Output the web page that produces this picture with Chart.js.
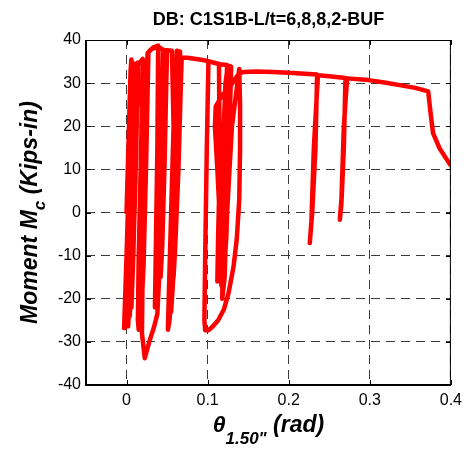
<!DOCTYPE html>
<html>
<head>
<meta charset="utf-8">
<script src="https://cdn.jsdelivr.net/npm/chart.js@4.4.1/dist/chart.umd.min.js"></script>
<style>
  html, body { margin: 0; padding: 0; background: #fff; }
  #chart-container { width: 468px; height: 451px; }
</style>
</head>
<body>
<div id="chart-container"><canvas id="hysteresisChart" width="468" height="451"></canvas></div>
<script>
// rotation (rad) and column moment (kips-in), one pair per recorded step
const thetaRad = [
    // small cycles round zero
    0.000, 0.003, 0.005, 0.006, 0.007, 0.004, 0.000, -0.003, -0.002, 0.001,
    0.004, 0.007, 0.009, 0.006, 0.002, 0.001, 0.002, 0.004, 0.007, 0.010,
    0.012, 0.011, 0.009, 0.005, 0.003, 0.004, 0.006, 0.009, 0.012, 0.014,
    0.012, 0.009, 0.006, 0.006, 0.008, 0.011, 0.013, 0.014,
    0.010, 0.003, 0.000, 0.001, 0.005, 0.009, 0.013,
    0.020, 0.018, 0.015, 0.014, 0.015, 0.017, 0.020, 0.023, 0.026,
    0.024, 0.021, 0.019, 0.021, 0.024, 0.027,
    0.033, 0.039, 0.038, 0.036, 0.035, 0.037, 0.040, 0.043, 0.045,
    0.039, 0.030, 0.026,
    // deepest negative excursion
    0.023, 0.020, 0.019, 0.0225, 0.028, 0.034, 0.038, 0.041, 0.043, 0.045, 0.047,
    0.045, 0.041, 0.039, 0.041, 0.044, 0.047, 0.049,
    0.046, 0.043, 0.042, 0.044, 0.047, 0.049, 0.050, 0.056,
    0.058, 0.055, 0.052, 0.051, 0.053, 0.057, 0.061, 0.064, 0.066, 0.066,
    0.062, 0.060, 0.057, 0.055, 0.055, 0.058, 0.062, 0.065, 0.067,
    0.064, 0.060, 0.058, 0.060, 0.064, 0.067, 0.068,
    0.075, 0.092, 0.101, 0.108,
    0.114, 0.115, 0.113, 0.112, 0.114, 0.118, 0.122, 0.125,
    0.122, 0.119, 0.118, 0.121, 0.124, 0.127, 0.128,
    0.126, 0.122, 0.120, 0.123, 0.126, 0.129,
    0.120, 0.116, 0.115, 0.117, 0.121, 0.124,
    // large loop at 0.1 rad
    0.115, 0.101, 0.099, 0.097, 0.096, 0.097, 0.101, 0.106, 0.113, 0.120,
    0.126, 0.132, 0.136, 0.139, 0.140, 0.140, 0.139,
    0.130, 0.124, 0.119, 0.117, 0.116, 0.112, 0.109, 0.110, 0.118, 0.127,
    0.134, 0.139, 0.145,
    // monotonic push with two unloadings
    0.160, 0.180, 0.200, 0.220, 0.235,
    0.233, 0.229, 0.226, 0.228, 0.231, 0.236,
    0.250, 0.270,
    0.268, 0.265, 0.263, 0.265, 0.268, 0.272,
    0.2985, 0.320, 0.335, 0.356, 0.372, 0.375, 0.378, 0.386, 0.399
];
const momentKipIn = [
    0, 20, 33, 35.5, 34, 15, -10, -26.8, -22, -5,
    15, 30, 34.5, 15, -10, -25, -26.4, -18, 0, 20,
    33, 34.5, 15, -5, -20, -24, -15, 5, 25, 34.8,
    15, -5, -18, -22, -12, 8, 25, 34.5,
    12, -12, -24, -20, 0, 20, 34,
    35.6, 15, -10, -25, -27.2, -15, 5, 25, 37,
    15, -8, -20, -12, 10, 37.2,
    38.3, 38.7, 15, -10, -22, -20, 0, 25, 37.7,
    38.5, 37.8, 37,
    15, -10, -28, -33.8, -30, -26.5, -23.5, -12, 5, 25, 37.7,
    15, -5, -18, -12, 10, 30, 37.6,
    15, -5, -15, -8, 12, 30, 37.6, 37.5,
    20, 0, -20, -27.2, -25, -15, 0, 20, 33, 37.3,
    37.5, 20, 0, -18, -23, -14, 5, 25, 35.9,
    15, -5, -15, -8, 10, 30, 35.9,
    35.9, 35.4, 35.1, 34.7,
    34.4, 10, -5, -16, -10, 10, 30, 34.1,
    10, -10, -20, -15, 5, 25, 33.9,
    15, -5, -14, -6, 12, 33.8,
    15, -5, -12, -3, 15, 34.2,
    34.4, 35.1, 15, -10, -25, -27.3, -27.3, -26.5, -25, -22.5,
    -18.5, -12.5, -6, 3, 15, 25, 33.3,
    20, 0, -12, -17, -5, 10, 20, 24.6, 27.2, 28.9,
    31, 32.3, 32.6,
    32.7, 32.6, 32.4, 32.2, 32.0,
    15, 0, -7.1, -2, 15, 31.8,
    31.6, 31.2,
    15, 2, -1.7, 3, 20, 31.1,
    30.7, 30.1, 29.6, 28.9, 28.1, 23, 18.4, 14.9, 11.1
];
const xTicks = [0, 0.1, 0.2, 0.3, 0.4];
const yTicks = [-40, -30, -20, -10, 0, 10, 20, 30, 40];
const chartTitle = 'DB: C1S1B-L/t=6,8,8,2-BUF';

const FONT = '"Liberation Sans", Arial, Helvetica, sans-serif';

// solid box round the plot plus short inward ticks on all four sides
const frameBox = {
    id: 'frameBox',
    afterDatasetsDraw(chart) {
        const { ctx, chartArea: a, scales: { x, y } } = chart;
        ctx.save();
        ctx.strokeStyle = '#000';
        ctx.lineWidth = 1;
        ctx.beginPath();
        ctx.moveTo(a.left, a.top + 0.5);
        ctx.lineTo(a.right, a.top + 0.5);
        ctx.moveTo(a.right - 0.5, a.top);
        ctx.lineTo(a.right - 0.5, a.bottom);
        ctx.stroke();
        ctx.beginPath();
        xTicks.forEach(v => {
            const px = Math.round(x.getPixelForValue(v)) + 0.5;
            ctx.moveTo(px, a.bottom); ctx.lineTo(px, a.bottom - 5);
            ctx.moveTo(px, a.top); ctx.lineTo(px, a.top + 5);
        });
        yTicks.forEach(v => {
            const py = Math.round(y.getPixelForValue(v)) + 0.5;
            ctx.moveTo(a.left, py); ctx.lineTo(a.left + 5, py);
            ctx.moveTo(a.right, py); ctx.lineTo(a.right - 5, py);
        });
        ctx.stroke();
        ctx.lineWidth = 2;
        ctx.beginPath();
        ctx.moveTo(a.left, a.top);
        ctx.lineTo(a.left, a.bottom);
        ctx.lineTo(a.right, a.bottom);
        ctx.stroke();
        ctx.restore();
    }
};

// title and axis labels with subscripts
const labelText = {
    id: 'labelText',
    afterDraw(chart) {
        const { ctx, chartArea: a } = chart;
        const main = 'bold italic 23px ' + FONT;
        const sub = 'bold italic 17px ' + FONT;
        ctx.save();
        ctx.fillStyle = '#000';
        ctx.textBaseline = 'alphabetic';

        ctx.font = 'bold 18px ' + FONT;
        ctx.textAlign = 'center';
        ctx.fillText(chartTitle, (a.left + a.right) / 2, 25);
        ctx.textAlign = 'left';

        // x label: theta_1.50" (rad)
        const xParts = [['\u03b8', main, 0], ['1.50"', sub, 12], [' (rad)', main, 0]];
        drawParts(ctx, xParts, (a.left + a.right) / 2, 432);

        // y label: Moment M_c (Kips-in)
        ctx.translate(37, (a.top + a.bottom) / 2);
        ctx.rotate(-Math.PI / 2);
        const yParts = [['Moment M', main, 0], ['c', sub, 8], [' (Kips-in)', main, 0]];
        drawParts(ctx, yParts, 0, 0);
        ctx.restore();
    }
};

function drawParts(ctx, parts, cx, base) {
    let total = 0;
    parts.forEach(([t, f]) => { ctx.font = f; total += ctx.measureText(t).width; });
    let pos = cx - total / 2;
    parts.forEach(([t, f, dy]) => {
        ctx.font = f;
        ctx.fillText(t, pos, base + dy);
        pos += ctx.measureText(t).width;
    });
}

const points = thetaRad.map((t, i) => ({ x: t, y: momentKipIn[i] }));

new Chart(document.getElementById('hysteresisChart').getContext('2d'), {
    type: 'scatter',
    data: {
        datasets: [{
            data: points,
            showLine: true,
            borderColor: '#ff0000',
            borderWidth: 4.5,
            borderJoinStyle: 'round',
            borderCapStyle: 'round',
            tension: 0,
            pointRadius: 0,
            pointHoverRadius: 0
        }]
    },
    options: {
        responsive: false,
        animation: false,
        devicePixelRatio: 1,
        layout: { padding: { top: 40, right: 15, left: 0, bottom: 0 } },
        plugins: {
            legend: { display: false },
            tooltip: { enabled: false }
        },
        scales: {
            x: {
                type: 'linear',
                min: -0.05,
                max: 0.4,
                afterBuildTicks: s => { s.ticks = xTicks.map(v => ({ value: v })); },
                afterFit: s => { s.height = 66; },
                ticks: {
                    color: '#000',
                    padding: 6,
                    font: { family: FONT, size: 16 },
                    callback: v => String(v)
                },
                grid: { color: '#3a3a3a', lineWidth: 1, drawTicks: false },
                border: { display: false, dash: [9, 6] }
            },
            y: {
                type: 'linear',
                min: -40,
                max: 40,
                afterBuildTicks: s => { s.ticks = yTicks.map(v => ({ value: v })); },
                afterFit: s => { s.width = 86; },
                ticks: {
                    color: '#000',
                    padding: 5,
                    font: { family: FONT, size: 16 },
                    callback: v => String(v)
                },
                grid: { color: '#3a3a3a', lineWidth: 1, drawTicks: false },
                border: { display: false, dash: [9, 6] }
            }
        }
    },
    plugins: [frameBox, labelText]
});
</script>
</body>
</html>
